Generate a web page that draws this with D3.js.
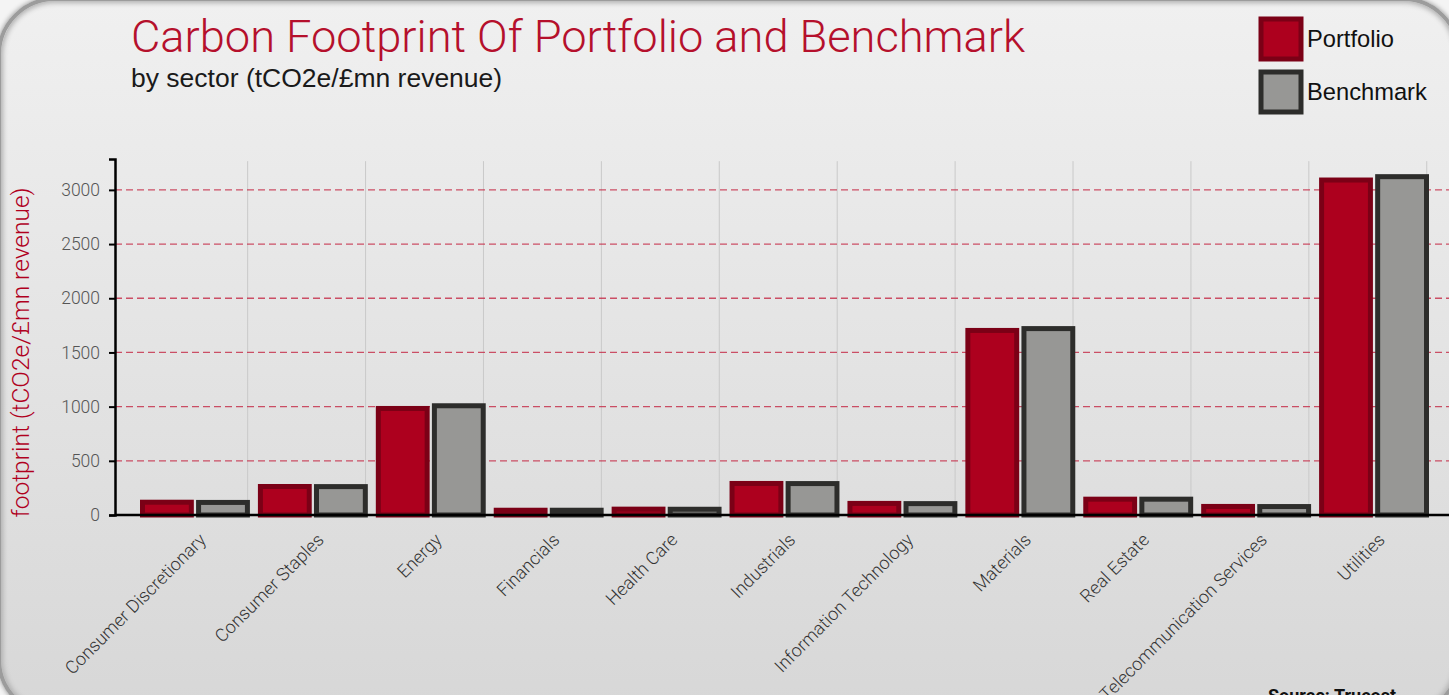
<!DOCTYPE html>
<html>
<head>
<meta charset="utf-8">
<script src="https://cdn.jsdelivr.net/npm/d3@7"></script>
<style>
  html, body { margin: 0; padding: 0; background: #f4f4f4; overflow: hidden; }
  #frame {
    position: absolute; left: -3px; top: -3px; width: 1456px; height: 712px;
    border-radius: 58px; border: 4px solid #9c9c9c;
    background: linear-gradient(#f0f0f0, #d7d7d7);
    box-shadow: 0 0 4px 1px #aaa, inset 0 0 5px 2px #b0b0b0;
  }
  svg { position: absolute; left: 0; top: 0; }
  text { font-family: Roboto, "Liberation Sans", sans-serif; }
  .plain { font-family: "Liberation Sans", Arial, sans-serif; }
</style>
</head>
<body>
<div id="frame"></div>
<svg id="chart" width="1449" height="695"></svg>
<script>
let sectors = ["Consumer Discretionary", "Consumer Staples", "Energy", "Financials", "Health Care",
  "Industrials", "Information Technology", "Materials", "Real Estate", "Telecommunication Services", "Utilities"]
let portfolio = [118, 263, 983, 44, 54, 291, 107, 1703, 146, 79, 3091]
let benchmark = [116, 262, 1008, 44, 53, 290, 105, 1720, 146, 78, 3122]
let series = ["Portfolio", "Benchmark"]
let yTicks = [0, 500, 1000, 1500, 2000, 2500, 3000]

let fills = { Portfolio: "#ad001e", Benchmark: "#979795" }
let strokes = { Portfolio: "#7b0016", Benchmark: "#2d2d2b" }

let svg = d3.select("#chart")
let margin = { left: 115, top: 159, bottom: 515 }

let x = d3.scaleBand().domain(sectors).range([136, 1433])
let inner = d3.scaleBand().domain(series).range([4, x.bandwidth() - 4]).paddingInner(0.04)
let y = d3.scaleLinear().domain([0, 3285]).range([margin.bottom, margin.top])

// vertical grid
svg.append("g").selectAll("line").data(sectors).join("line")
  .attr("x1", d => x(d) + x.bandwidth() * 0.947)
  .attr("x2", d => x(d) + x.bandwidth() * 0.947)
  .attr("y1", y(3265)).attr("y2", y(0))
  .attr("stroke", "#c9c9c9").attr("stroke-width", 1)

// horizontal dashed grid
svg.append("g").selectAll("line").data(yTicks.slice(1)).join("line")
  .attr("x1", margin.left).attr("x2", 1449)
  .attr("y1", d => y(d)).attr("y2", d => y(d))
  .attr("stroke", "#c42845").attr("stroke-opacity", 0.8)
  .attr("stroke-width", 1.3).attr("stroke-dasharray", "7,4")

// bars
let rows = sectors.map((s, i) => ({ sector: s, values: [
  { key: "Portfolio", value: portfolio[i] },
  { key: "Benchmark", value: benchmark[i] }] }))

let groups = svg.append("g").selectAll("g").data(rows).join("g")
  .attr("transform", d => `translate(${x(d.sector)},0)`)

groups.selectAll("rect").data(d => d.values).join("rect")
  .attr("x", d => inner(d.key) + 2.5)
  .attr("width", inner.bandwidth() - 5)
  .attr("y", d => y(d.value))
  .attr("height", d => y(0) - y(d.value))
  .attr("fill", d => fills[d.key])
  .attr("stroke", d => strokes[d.key])
  .attr("stroke-width", 5)

// y axis
let yAxis = svg.append("g").attr("transform", `translate(${margin.left},0)`)
  .call(d3.axisLeft(y).tickValues(yTicks).tickFormat(d3.format("d")).tickSize(6).tickPadding(9))
yAxis.select(".domain").attr("stroke", "#000").attr("stroke-width", 2.5)
yAxis.selectAll(".tick line").attr("stroke", "#000").attr("stroke-width", 2)
yAxis.selectAll(".tick text").attr("fill", "#555").attr("font-size", 17.5)
  .attr("font-weight", 300).style("font-family", "Roboto, sans-serif")

// x axis line
svg.append("line").attr("x1", margin.left).attr("x2", 1449)
  .attr("y1", y(0)).attr("y2", y(0))
  .attr("stroke", "#000").attr("stroke-width", 2.5)

// x labels
svg.append("g").selectAll("text").data(sectors).join("text")
  .attr("transform", d => `translate(${x(d) + x.bandwidth() / 2 + 12},${y(0) + 26}) rotate(-45)`)
  .attr("text-anchor", "end")
  .attr("font-size", 18).attr("font-weight", 300).attr("fill", "#333")
  .text(d => d)

// y title
svg.append("text")
  .attr("transform", `translate(29,${(y(3000) + y(0)) / 2}) rotate(-90)`)
  .attr("text-anchor", "middle")
  .attr("font-size", 24.5).attr("font-weight", 300).attr("fill", "#b0001e")
  .text("footprint (tCO2e/£mn revenue)")

// titles
svg.append("text").attr("x", 131).attr("y", 52)
  .attr("font-size", 45.2).attr("font-weight", 300).attr("fill", "#b5102c")
  .text("Carbon Footprint Of Portfolio and Benchmark")
svg.append("text").attr("class", "plain").attr("x", 131).attr("y", 87)
  .attr("font-size", 26.5).attr("fill", "#1a1a1a")
  .text("by sector (tCO2e/£mn revenue)")

// legend
let legend = svg.append("g").selectAll("g").data(series).join("g")
  .attr("transform", (d, i) => `translate(1261,${19 + i * 53})`)
legend.append("rect").attr("width", 40).attr("height", 40)
  .attr("fill", d => fills[d]).attr("stroke", d => strokes[d]).attr("stroke-width", 5)
legend.append("text").attr("class", "plain").attr("x", 46).attr("y", 28)
  .attr("font-size", 23.7).attr("fill", "#111")
  .text(d => d)

// source
svg.append("text").attr("x", 1268).attr("y", 702)
  .attr("font-size", 18).attr("font-weight", "bold").attr("fill", "#111")
  .text("Source: Trucost")
</script>
</body>
</html>
